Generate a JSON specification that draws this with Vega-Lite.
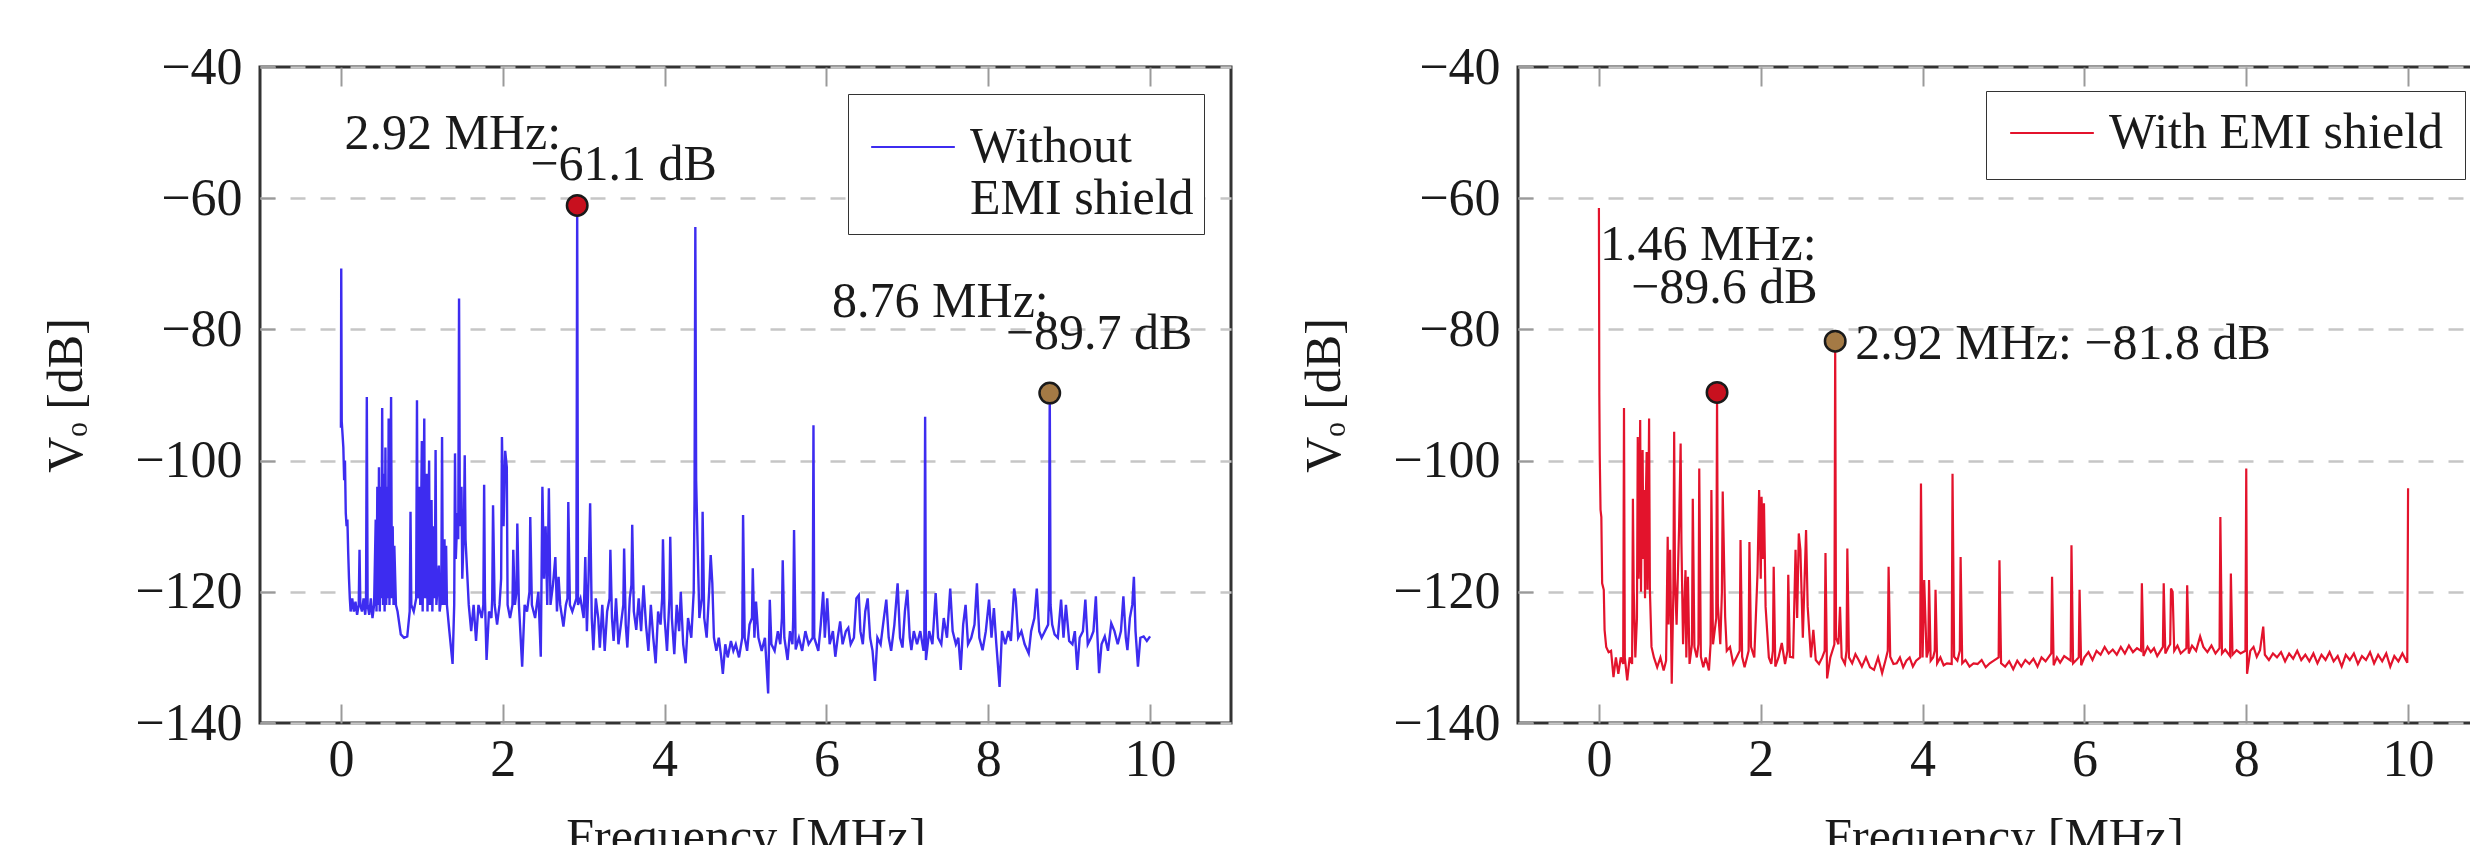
{
"$schema": "https://vega.github.io/schema/vega-lite/v6.json",
"padding": {"left": 40, "top": 39, "right": 0, "bottom": 0},
"spacing": 65,
"resolve": {"scale": {"color": "independent", "fill": "independent"}, "legend": {"color": "independent"}},
"config": {
 "font": "Liberation Serif",
 "view": {"stroke": "#333333", "strokeWidth": 3},
 "axis": {"labelFont": "Liberation Serif", "labelFontSize": 52, "labelColor": "#1a1a1a", "titleFont": "Liberation Serif", "titleFontSize": 50, "titleFontWeight": "normal", "titleColor": "#1a1a1a", "domain": false, "tickColor": "#9a9a9a", "tickWidth": 2, "labelFlush": false, "labelOverlap": false},
 "legend": {"orient": "top-right", "offset": 25, "labelFont": "Liberation Serif", "labelFontSize": 50, "labelColor": "#1a1a1a", "labelLimit": 1000, "symbolType": "stroke", "symbolSize": 7000, "symbolStrokeWidth": 2, "labelOffset": 14, "padding": 16, "strokeColor": "#333333", "fillColor": "white"}
},
"datasets": {
 "blue": [{"f":0,"v":-95},{"f":0.004,"v":-70.7},{"f":0.01,"v":-94},{"f":0.02,"v":-96},{"f":0.03,"v":-98},{"f":0.04,"v":-103},{"f":0.05,"v":-100},{"f":0.06,"v":-108},{"f":0.07,"v":-110},{"f":0.08,"v":-109},{"f":0.09,"v":-114},{"f":0.1,"v":-118},{"f":0.11,"v":-121},{"f":0.12,"v":-123},{"f":0.14,"v":-121},{"f":0.16,"v":-123},{"f":0.18,"v":-121.5},{"f":0.2,"v":-123.5},{"f":0.22,"v":-122},{"f":0.23,"v":-113.6},{"f":0.24,"v":-122},{"f":0.26,"v":-123},{"f":0.28,"v":-121},{"f":0.3,"v":-123.5},{"f":0.31,"v":-122},{"f":0.32,"v":-90.3},{"f":0.33,"v":-122},{"f":0.35,"v":-123.5},{"f":0.37,"v":-121},{"f":0.39,"v":-124},{"f":0.41,"v":-122},{"f":0.43,"v":-109},{"f":0.44,"v":-123},{"f":0.45,"v":-104},{"f":0.46,"v":-122},{"f":0.47,"v":-101},{"f":0.48,"v":-123},{"f":0.49,"v":-104},{"f":0.5,"v":-121},{"f":0.51,"v":-92},{"f":0.52,"v":-122},{"f":0.53,"v":-102},{"f":0.54,"v":-123},{"f":0.55,"v":-98},{"f":0.56,"v":-122},{"f":0.57,"v":-104},{"f":0.58,"v":-121},{"f":0.59,"v":-93.6},{"f":0.6,"v":-122},{"f":0.61,"v":-108},{"f":0.62,"v":-90.3},{"f":0.63,"v":-121},{"f":0.64,"v":-110},{"f":0.65,"v":-122},{"f":0.66,"v":-113},{"f":0.68,"v":-122},{"f":0.7,"v":-123},{"f":0.74,"v":-126.5},{"f":0.78,"v":-127},{"f":0.82,"v":-126.8},{"f":0.85,"v":-123},{"f":0.86,"v":-107.8},{"f":0.87,"v":-122},{"f":0.9,"v":-123},{"f":0.93,"v":-121},{"f":0.94,"v":-90.8},{"f":0.95,"v":-121},{"f":0.97,"v":-104},{"f":0.98,"v":-122},{"f":1.0,"v":-97},{"f":1.01,"v":-123},{"f":1.02,"v":-110},{"f":1.03,"v":-93.6},{"f":1.04,"v":-121},{"f":1.06,"v":-102},{"f":1.07,"v":-123},{"f":1.09,"v":-100},{"f":1.1,"v":-122},{"f":1.12,"v":-106},{"f":1.13,"v":-123},{"f":1.15,"v":-110},{"f":1.16,"v":-121},{"f":1.17,"v":-98.4},{"f":1.18,"v":-122},{"f":1.21,"v":-116},{"f":1.22,"v":-123},{"f":1.24,"v":-121},{"f":1.25,"v":-96.4},{"f":1.26,"v":-122},{"f":1.28,"v":-112},{"f":1.29,"v":-122},{"f":1.3,"v":-113},{"f":1.31,"v":-122},{"f":1.34,"v":-126},{"f":1.38,"v":-131},{"f":1.4,"v":-122},{"f":1.41,"v":-98.9},{"f":1.42,"v":-115},{"f":1.44,"v":-108},{"f":1.45,"v":-112},{"f":1.46,"v":-75.3},{"f":1.47,"v":-110},{"f":1.49,"v":-104},{"f":1.5,"v":-118},{"f":1.52,"v":-110},{"f":1.53,"v":-99.2},{"f":1.54,"v":-112},{"f":1.56,"v":-117},{"f":1.58,"v":-122},{"f":1.61,"v":-126},{"f":1.64,"v":-122},{"f":1.67,"v":-127.5},{"f":1.7,"v":-122},{"f":1.74,"v":-124},{"f":1.76,"v":-122},{"f":1.77,"v":-103.7},{"f":1.78,"v":-121},{"f":1.8,"v":-130.4},{"f":1.83,"v":-123},{"f":1.86,"v":-124},{"f":1.87,"v":-121},{"f":1.88,"v":-106.8},{"f":1.9,"v":-122},{"f":1.93,"v":-125},{"f":1.96,"v":-122},{"f":1.98,"v":-118},{"f":1.99,"v":-96.4},{"f":2.01,"v":-110},{"f":2.03,"v":-98.5},{"f":2.05,"v":-101},{"f":2.06,"v":-122},{"f":2.09,"v":-124},{"f":2.12,"v":-122},{"f":2.13,"v":-113.6},{"f":2.15,"v":-122},{"f":2.17,"v":-120},{"f":2.18,"v":-109.6},{"f":2.2,"v":-122},{"f":2.24,"v":-131.4},{"f":2.27,"v":-122},{"f":2.3,"v":-123},{"f":2.33,"v":-120},{"f":2.34,"v":-108.6},{"f":2.36,"v":-122},{"f":2.4,"v":-124},{"f":2.44,"v":-120},{"f":2.47,"v":-129.9},{"f":2.49,"v":-104},{"f":2.51,"v":-118},{"f":2.53,"v":-110},{"f":2.55,"v":-122},{"f":2.57,"v":-104.2},{"f":2.59,"v":-122},{"f":2.62,"v":-119},{"f":2.65,"v":-114.7},{"f":2.67,"v":-123},{"f":2.69,"v":-117.7},{"f":2.71,"v":-122},{"f":2.75,"v":-125.3},{"f":2.78,"v":-122},{"f":2.8,"v":-121},{"f":2.81,"v":-106.3},{"f":2.83,"v":-122},{"f":2.86,"v":-123},{"f":2.91,"v":-121},{"f":2.92,"v":-61.1},{"f":2.93,"v":-122},{"f":2.96,"v":-121},{"f":3.0,"v":-124},{"f":3.02,"v":-114.7},{"f":3.04,"v":-126},{"f":3.06,"v":-118},{"f":3.08,"v":-106.5},{"f":3.1,"v":-124},{"f":3.12,"v":-128.9},{"f":3.15,"v":-121},{"f":3.18,"v":-124},{"f":3.2,"v":-128.5},{"f":3.23,"v":-122},{"f":3.26,"v":-129},{"f":3.29,"v":-123},{"f":3.32,"v":-121},{"f":3.33,"v":-113.6},{"f":3.35,"v":-124},{"f":3.37,"v":-127.5},{"f":3.4,"v":-121},{"f":3.43,"v":-128},{"f":3.47,"v":-124},{"f":3.49,"v":-122},{"f":3.5,"v":-113.4},{"f":3.52,"v":-125},{"f":3.54,"v":-128.5},{"f":3.57,"v":-121},{"f":3.59,"v":-119},{"f":3.6,"v":-109.8},{"f":3.62,"v":-123},{"f":3.65,"v":-125.8},{"f":3.68,"v":-121},{"f":3.71,"v":-126},{"f":3.74,"v":-119},{"f":3.77,"v":-125},{"f":3.8,"v":-129},{"f":3.83,"v":-122},{"f":3.86,"v":-127},{"f":3.89,"v":-130.9},{"f":3.92,"v":-123},{"f":3.95,"v":-125},{"f":3.97,"v":-121},{"f":3.98,"v":-112},{"f":4.0,"v":-124},{"f":4.03,"v":-129},{"f":4.06,"v":-121},{"f":4.07,"v":-111.6},{"f":4.09,"v":-124},{"f":4.12,"v":-129.5},{"f":4.15,"v":-122},{"f":4.18,"v":-126},{"f":4.2,"v":-120},{"f":4.23,"v":-128},{"f":4.26,"v":-130.9},{"f":4.29,"v":-124},{"f":4.33,"v":-127},{"f":4.36,"v":-120},{"f":4.37,"v":-106},{"f":4.38,"v":-64.4},{"f":4.39,"v":-103},{"f":4.41,"v":-114},{"f":4.43,"v":-124},{"f":4.46,"v":-121},{"f":4.47,"v":-107.8},{"f":4.49,"v":-124},{"f":4.52,"v":-127},{"f":4.55,"v":-120},{"f":4.57,"v":-114.4},{"f":4.59,"v":-118.7},{"f":4.61,"v":-127},{"f":4.64,"v":-129},{"f":4.67,"v":-127},{"f":4.7,"v":-130},{"f":4.72,"v":-132.5},{"f":4.75,"v":-128},{"f":4.78,"v":-130},{"f":4.82,"v":-127.5},{"f":4.85,"v":-129},{"f":4.88,"v":-128},{"f":4.92,"v":-130},{"f":4.96,"v":-127},{"f":4.97,"v":-108.3},{"f":4.99,"v":-127},{"f":5.02,"v":-129},{"f":5.05,"v":-125},{"f":5.08,"v":-124},{"f":5.09,"v":-116.4},{"f":5.11,"v":-127},{"f":5.13,"v":-121.5},{"f":5.16,"v":-127},{"f":5.2,"v":-129},{"f":5.24,"v":-127},{"f":5.28,"v":-135.5},{"f":5.3,"v":-121.2},{"f":5.32,"v":-128},{"f":5.36,"v":-129},{"f":5.4,"v":-126},{"f":5.43,"v":-128},{"f":5.45,"v":-124},{"f":5.46,"v":-115.2},{"f":5.48,"v":-127},{"f":5.52,"v":-130.4},{"f":5.55,"v":-126},{"f":5.58,"v":-128},{"f":5.59,"v":-124},{"f":5.6,"v":-110.6},{"f":5.62,"v":-128.8},{"f":5.66,"v":-127},{"f":5.7,"v":-129},{"f":5.74,"v":-126},{"f":5.78,"v":-128},{"f":5.83,"v":-127},{"f":5.84,"v":-94.6},{"f":5.85,"v":-127},{"f":5.9,"v":-129},{"f":5.93,"v":-125},{"f":5.96,"v":-120},{"f":5.98,"v":-127},{"f":6.01,"v":-121},{"f":6.04,"v":-128},{"f":6.08,"v":-126},{"f":6.11,"v":-129.9},{"f":6.14,"v":-127},{"f":6.17,"v":-124.5},{"f":6.2,"v":-128},{"f":6.24,"v":-126},{"f":6.27,"v":-125.5},{"f":6.3,"v":-128},{"f":6.34,"v":-127},{"f":6.37,"v":-121},{"f":6.4,"v":-120.5},{"f":6.42,"v":-126},{"f":6.45,"v":-128},{"f":6.48,"v":-123},{"f":6.51,"v":-121},{"f":6.54,"v":-127},{"f":6.57,"v":-129},{"f":6.6,"v":-133.6},{"f":6.63,"v":-127},{"f":6.67,"v":-128},{"f":6.71,"v":-124},{"f":6.74,"v":-121.2},{"f":6.77,"v":-127},{"f":6.8,"v":-129},{"f":6.84,"v":-125},{"f":6.88,"v":-118.7},{"f":6.91,"v":-127},{"f":6.94,"v":-128.5},{"f":6.97,"v":-123},{"f":7.0,"v":-119.7},{"f":7.03,"v":-127},{"f":7.05,"v":-128.9},{"f":7.08,"v":-126},{"f":7.12,"v":-128},{"f":7.16,"v":-126},{"f":7.2,"v":-129},{"f":7.21,"v":-127},{"f":7.22,"v":-93.3},{"f":7.23,"v":-130.4},{"f":7.27,"v":-126},{"f":7.31,"v":-128},{"f":7.35,"v":-120.2},{"f":7.38,"v":-127},{"f":7.42,"v":-128},{"f":7.45,"v":-124},{"f":7.49,"v":-127},{"f":7.53,"v":-119.5},{"f":7.56,"v":-126},{"f":7.6,"v":-128},{"f":7.63,"v":-127},{"f":7.66,"v":-131.9},{"f":7.69,"v":-125},{"f":7.72,"v":-122},{"f":7.75,"v":-128},{"f":7.79,"v":-127},{"f":7.83,"v":-125},{"f":7.86,"v":-118.7},{"f":7.89,"v":-127},{"f":7.93,"v":-128.9},{"f":7.97,"v":-126},{"f":8.01,"v":-121.2},{"f":8.04,"v":-127},{"f":8.07,"v":-122.5},{"f":8.1,"v":-128},{"f":8.14,"v":-134.5},{"f":8.17,"v":-126},{"f":8.21,"v":-128},{"f":8.25,"v":-126},{"f":8.28,"v":-127.5},{"f":8.32,"v":-119.5},{"f":8.34,"v":-121},{"f":8.37,"v":-127},{"f":8.41,"v":-126},{"f":8.45,"v":-128},{"f":8.5,"v":-129.4},{"f":8.53,"v":-126},{"f":8.57,"v":-124},{"f":8.6,"v":-119.5},{"f":8.63,"v":-126},{"f":8.66,"v":-127},{"f":8.7,"v":-126},{"f":8.74,"v":-125},{"f":8.75,"v":-121},{"f":8.76,"v":-89.7},{"f":8.77,"v":-122},{"f":8.79,"v":-125},{"f":8.82,"v":-126.5},{"f":8.86,"v":-127},{"f":8.9,"v":-121.2},{"f":8.93,"v":-127},{"f":8.96,"v":-122},{"f":9.0,"v":-127.5},{"f":9.04,"v":-128},{"f":9.07,"v":-126},{"f":9.1,"v":-131.9},{"f":9.13,"v":-127},{"f":9.17,"v":-126},{"f":9.2,"v":-121.2},{"f":9.23,"v":-128},{"f":9.27,"v":-127},{"f":9.3,"v":-126},{"f":9.33,"v":-120.7},{"f":9.35,"v":-127},{"f":9.37,"v":-132.4},{"f":9.4,"v":-128},{"f":9.44,"v":-126.8},{"f":9.48,"v":-129},{"f":9.52,"v":-124.8},{"f":9.56,"v":-126},{"f":9.6,"v":-128},{"f":9.64,"v":-126},{"f":9.67,"v":-120.7},{"f":9.7,"v":-127},{"f":9.72,"v":-128.9},{"f":9.75,"v":-124},{"f":9.78,"v":-122},{"f":9.8,"v":-117.7},{"f":9.82,"v":-126},{"f":9.85,"v":-131.4},{"f":9.88,"v":-127},{"f":9.92,"v":-126.8},{"f":9.96,"v":-127.5},{"f":10.0,"v":-126.8}],
 "red": [{"f":0,"v":-61.5},{"f":0.005,"v":-90},{"f":0.01,"v":-99},{"f":0.02,"v":-107.5},{"f":0.03,"v":-108.6},{"f":0.04,"v":-118.7},{"f":0.06,"v":-119.7},{"f":0.07,"v":-125.8},{"f":0.09,"v":-128.4},{"f":0.12,"v":-129.2},{"f":0.15,"v":-129},{"f":0.18,"v":-133},{"f":0.21,"v":-130},{"f":0.24,"v":-132.5},{"f":0.27,"v":-130},{"f":0.3,"v":-131},{"f":0.31,"v":-92},{"f":0.32,"v":-130},{"f":0.35,"v":-133.5},{"f":0.38,"v":-130},{"f":0.41,"v":-131},{"f":0.42,"v":-105.8},{"f":0.43,"v":-119.7},{"f":0.45,"v":-130},{"f":0.47,"v":-124},{"f":0.48,"v":-96.4},{"f":0.49,"v":-118},{"f":0.5,"v":-110},{"f":0.51,"v":-93.8},{"f":0.52,"v":-120},{"f":0.53,"v":-105},{"f":0.54,"v":-98.4},{"f":0.55,"v":-115},{"f":0.56,"v":-104.5},{"f":0.57,"v":-121},{"f":0.58,"v":-106},{"f":0.59,"v":-98.7},{"f":0.6,"v":-119.7},{"f":0.61,"v":-110},{"f":0.62,"v":-93.6},{"f":0.63,"v":-119.7},{"f":0.65,"v":-128.4},{"f":0.68,"v":-130},{"f":0.72,"v":-131.5},{"f":0.76,"v":-130},{"f":0.8,"v":-132},{"f":0.83,"v":-130.5},{"f":0.85,"v":-111.6},{"f":0.86,"v":-125},{"f":0.88,"v":-113.6},{"f":0.9,"v":-134},{"f":0.92,"v":-120},{"f":0.93,"v":-95.6},{"f":0.94,"v":-118},{"f":0.96,"v":-125},{"f":0.99,"v":-110.6},{"f":1.01,"v":-97.4},{"f":1.02,"v":-112.7},{"f":1.04,"v":-128},{"f":1.07,"v":-116.7},{"f":1.08,"v":-130},{"f":1.1,"v":-117.7},{"f":1.12,"v":-131},{"f":1.15,"v":-128},{"f":1.16,"v":-105.8},{"f":1.18,"v":-128.4},{"f":1.21,"v":-130},{"f":1.23,"v":-128},{"f":1.24,"v":-101.2},{"f":1.26,"v":-129.9},{"f":1.29,"v":-131.5},{"f":1.32,"v":-130},{"f":1.36,"v":-132},{"f":1.38,"v":-128},{"f":1.39,"v":-104.5},{"f":1.41,"v":-128},{"f":1.45,"v":-124},{"f":1.46,"v":-89.6},{"f":1.47,"v":-122},{"f":1.5,"v":-128},{"f":1.52,"v":-120},{"f":1.53,"v":-104.7},{"f":1.56,"v":-123.8},{"f":1.58,"v":-129},{"f":1.62,"v":-128.4},{"f":1.66,"v":-131},{"f":1.7,"v":-130},{"f":1.74,"v":-129},{"f":1.75,"v":-112.1},{"f":1.77,"v":-129.9},{"f":1.8,"v":-131.5},{"f":1.83,"v":-130},{"f":1.85,"v":-129},{"f":1.86,"v":-112.4},{"f":1.88,"v":-128.4},{"f":1.92,"v":-130},{"f":1.96,"v":-117.2},{"f":1.98,"v":-104.5},{"f":2.0,"v":-118},{"f":2.01,"v":-105.5},{"f":2.03,"v":-115},{"f":2.04,"v":-106.5},{"f":2.06,"v":-122.3},{"f":2.1,"v":-130},{"f":2.13,"v":-131},{"f":2.15,"v":-129},{"f":2.16,"v":-116.2},{"f":2.18,"v":-131.4},{"f":2.22,"v":-130},{"f":2.26,"v":-127.8},{"f":2.3,"v":-131},{"f":2.33,"v":-129},{"f":2.34,"v":-117.4},{"f":2.36,"v":-129.9},{"f":2.4,"v":-130},{"f":2.43,"v":-113.6},{"f":2.45,"v":-124},{"f":2.47,"v":-111.1},{"f":2.49,"v":-113.6},{"f":2.52,"v":-127},{"f":2.56,"v":-110.6},{"f":2.58,"v":-122.3},{"f":2.62,"v":-130},{"f":2.65,"v":-125.8},{"f":2.68,"v":-130.4},{"f":2.72,"v":-131},{"f":2.76,"v":-130},{"f":2.79,"v":-129},{"f":2.8,"v":-114.1},{"f":2.82,"v":-133.2},{"f":2.86,"v":-130},{"f":2.91,"v":-128},{"f":2.92,"v":-81.8},{"f":2.93,"v":-127},{"f":2.96,"v":-128},{"f":2.98,"v":-122.3},{"f":3.0,"v":-130},{"f":3.04,"v":-131},{"f":3.06,"v":-129},{"f":3.07,"v":-113.4},{"f":3.09,"v":-130},{"f":3.13,"v":-130.9},{"f":3.17,"v":-129.5},{"f":3.21,"v":-130.4},{"f":3.25,"v":-131.4},{"f":3.3,"v":-130},{"f":3.35,"v":-131.5},{"f":3.4,"v":-131.9},{"f":3.45,"v":-130},{"f":3.5,"v":-132.4},{"f":3.54,"v":-130.5},{"f":3.57,"v":-129},{"f":3.58,"v":-116.2},{"f":3.6,"v":-129.9},{"f":3.64,"v":-131},{"f":3.68,"v":-130.9},{"f":3.72,"v":-130},{"f":3.76,"v":-131.5},{"f":3.8,"v":-130.5},{"f":3.84,"v":-130},{"f":3.88,"v":-131.4},{"f":3.92,"v":-130.5},{"f":3.97,"v":-130},{"f":3.98,"v":-103.5},{"f":4.0,"v":-130},{"f":4.02,"v":-118.2},{"f":4.05,"v":-130},{"f":4.07,"v":-129},{"f":4.08,"v":-118.2},{"f":4.1,"v":-130.5},{"f":4.13,"v":-130},{"f":4.15,"v":-129},{"f":4.16,"v":-119.7},{"f":4.18,"v":-130.9},{"f":4.22,"v":-130},{"f":4.26,"v":-131.2},{"f":4.3,"v":-130.9},{"f":4.36,"v":-131},{"f":4.37,"v":-102},{"f":4.39,"v":-129.9},{"f":4.43,"v":-130.5},{"f":4.46,"v":-129},{"f":4.47,"v":-114.7},{"f":4.49,"v":-130.9},{"f":4.53,"v":-130.4},{"f":4.58,"v":-131.4},{"f":4.63,"v":-130.9},{"f":4.68,"v":-131},{"f":4.73,"v":-130.4},{"f":4.78,"v":-131.5},{"f":4.83,"v":-130.9},{"f":4.88,"v":-130.5},{"f":4.94,"v":-130},{"f":4.95,"v":-115.2},{"f":4.97,"v":-130.9},{"f":5.02,"v":-131.4},{"f":5.07,"v":-130.6},{"f":5.12,"v":-131.8},{"f":5.17,"v":-130.5},{"f":5.22,"v":-131.4},{"f":5.27,"v":-130.4},{"f":5.32,"v":-131},{"f":5.37,"v":-130.2},{"f":5.42,"v":-131.4},{"f":5.47,"v":-130},{"f":5.52,"v":-130.6},{"f":5.59,"v":-129.4},{"f":5.6,"v":-117.7},{"f":5.62,"v":-131.2},{"f":5.66,"v":-130},{"f":5.7,"v":-130.8},{"f":5.75,"v":-129.8},{"f":5.83,"v":-130.5},{"f":5.84,"v":-112.9},{"f":5.86,"v":-130.9},{"f":5.9,"v":-130.4},{"f":5.93,"v":-130},{"f":5.94,"v":-119.7},{"f":5.96,"v":-131.2},{"f":6.0,"v":-130},{"f":6.05,"v":-129.2},{"f":6.1,"v":-130.4},{"f":6.15,"v":-129},{"f":6.2,"v":-129.6},{"f":6.25,"v":-128.4},{"f":6.3,"v":-129.4},{"f":6.35,"v":-128.8},{"f":6.4,"v":-129.6},{"f":6.45,"v":-128.4},{"f":6.5,"v":-129.4},{"f":6.55,"v":-128.2},{"f":6.6,"v":-129.2},{"f":6.65,"v":-128.6},{"f":6.7,"v":-129},{"f":6.71,"v":-118.7},{"f":6.73,"v":-129.8},{"f":6.78,"v":-128.4},{"f":6.82,"v":-129.2},{"f":6.86,"v":-128.6},{"f":6.9,"v":-129.8},{"f":6.97,"v":-128.4},{"f":6.98,"v":-118.7},{"f":7.0,"v":-129.4},{"f":7.04,"v":-128.4},{"f":7.06,"v":-128},{"f":7.07,"v":-119.5},{"f":7.09,"v":-120},{"f":7.11,"v":-129},{"f":7.15,"v":-128.2},{"f":7.19,"v":-129.4},{"f":7.26,"v":-128.6},{"f":7.27,"v":-119},{"f":7.29,"v":-129.4},{"f":7.33,"v":-128.2},{"f":7.38,"v":-129},{"f":7.43,"v":-126.8},{"f":7.47,"v":-128.4},{"f":7.52,"v":-129.2},{"f":7.57,"v":-128.2},{"f":7.62,"v":-129.4},{"f":7.67,"v":-128.6},{"f":7.68,"v":-108.6},{"f":7.7,"v":-129.4},{"f":7.74,"v":-128.8},{"f":7.8,"v":-129.8},{"f":7.81,"v":-117.2},{"f":7.83,"v":-129.6},{"f":7.88,"v":-128.9},{"f":7.93,"v":-129.4},{"f":7.99,"v":-129},{"f":8.0,"v":-101.2},{"f":8.01,"v":-132.5},{"f":8.05,"v":-129},{"f":8.09,"v":-128.4},{"f":8.13,"v":-129.9},{"f":8.17,"v":-128.9},{"f":8.21,"v":-125.3},{"f":8.23,"v":-129.6},{"f":8.28,"v":-130.4},{"f":8.33,"v":-129.4},{"f":8.38,"v":-130},{"f":8.43,"v":-129.2},{"f":8.48,"v":-130.6},{"f":8.53,"v":-129.4},{"f":8.58,"v":-130.2},{"f":8.63,"v":-129},{"f":8.68,"v":-130.4},{"f":8.73,"v":-129.6},{"f":8.78,"v":-130.6},{"f":8.83,"v":-129.4},{"f":8.88,"v":-130.9},{"f":8.93,"v":-129.6},{"f":8.98,"v":-130.4},{"f":9.03,"v":-129.2},{"f":9.08,"v":-130.6},{"f":9.13,"v":-129.8},{"f":9.18,"v":-131.4},{"f":9.23,"v":-129.6},{"f":9.28,"v":-130.4},{"f":9.33,"v":-129.4},{"f":9.38,"v":-131},{"f":9.43,"v":-129.8},{"f":9.48,"v":-130.4},{"f":9.53,"v":-129.2},{"f":9.58,"v":-130.9},{"f":9.63,"v":-129.6},{"f":9.68,"v":-130.6},{"f":9.73,"v":-129.4},{"f":9.78,"v":-131.4},{"f":9.83,"v":-129.8},{"f":9.88,"v":-130.6},{"f":9.93,"v":-129.4},{"f":9.99,"v":-130.8},{"f":10.0,"v":-104.2}],
 "ptsA": [{"f":2.92,"v":-61.1,"k":"a","t1":"2.92 MHz:","t2":"−61.1 dB"},{"f":8.76,"v":-89.7,"k":"b","t1":"8.76 MHz:","t2":"−89.7 dB"}],
 "ptsB": [{"f":1.46,"v":-89.6,"k":"a","t1":"1.46 MHz:","t2":"−89.6 dB"},{"f":2.92,"v":-81.8,"k":"b","t1":"2.92 MHz: −81.8 dB","t2":""}]
},
"hconcat": [
 {
  "width": 971, "height": 656,
  "resolve": {"axis": {"x": "independent"}},
  "layer": [
   {"data": {"name": "blue"}, "mark": {"type": "line", "strokeWidth": 2.4, "clip": true},
    "encoding": {
     "x": {"field": "f", "type": "quantitative", "scale": {"domain": [-1, 11], "nice": false, "zero": false}, "axis": {"orient": "bottom", "values": [0,2,4,6,8,10], "title": "Frequency [MHz]", "tickSize": -19, "labelPadding": 30, "titlePadding": 27, "grid": false}},
     "y": {"field": "v", "type": "quantitative", "scale": {"domain": [-140, -40], "nice": false, "zero": false}, "axis": {"values": [-140,-120,-100,-80,-60,-40], "title": "Vₒ [dB]", "tickSize": -15, "labelPadding": 33, "titlePadding": 43, "grid": true, "gridDash": [15, 15], "gridColor": "#c6c6c6", "gridWidth": 2.5}},
     "color": {"datum": "Without EMI shield", "scale": {"range": ["#3d2cf0"]}, "legend": {"title": null, "orient": "top-right", "offset": 27, "padding": 10, "symbolOffset": 12, "labelExpr": "['Without', 'EMI shield']"}}
    }
   },
   {"data": {"name": "ptsA"}, "mark": {"type": "point", "shape": "circle", "filled": true, "size": 420, "stroke": "#1a1a1a", "strokeWidth": 2.5, "opacity": 1},
    "encoding": {
     "x": {"field": "f", "type": "quantitative", "axis": {"orient": "top", "values": [0,2,4,6,8,10], "labels": false, "title": null, "tickSize": -19, "grid": false}},
     "y": {"field": "v", "type": "quantitative"},
     "fill": {"field": "k", "type": "nominal", "scale": {"domain": ["a","b"], "range": ["#c8101e", "#a47a45"]}, "legend": null}
    }
   },
   {"data": {"name": "ptsA"}, "transform": [{"filter": "datum.k == 'a'"}], "mark": {"type": "text", "align": "right", "baseline": "middle", "dx": -16, "dy": -71, "fontSize": 50, "font": "Liberation Serif", "color": "#1a1a1a"},
    "encoding": {"x": {"field": "f", "type": "quantitative", "axis": null}, "y": {"field": "v", "type": "quantitative"}, "text": {"field": "t1"}}},
   {"data": {"name": "ptsA"}, "transform": [{"filter": "datum.k == 'a'"}], "mark": {"type": "text", "align": "left", "baseline": "middle", "dx": -47, "dy": -40, "fontSize": 50, "font": "Liberation Serif", "color": "#1a1a1a"},
    "encoding": {"x": {"field": "f", "type": "quantitative", "axis": null}, "y": {"field": "v", "type": "quantitative"}, "text": {"field": "t2"}}},
   {"data": {"name": "ptsA"}, "transform": [{"filter": "datum.k == 'b'"}], "mark": {"type": "text", "align": "right", "baseline": "middle", "dx": -1, "dy": -91, "fontSize": 50, "font": "Liberation Serif", "color": "#1a1a1a"},
    "encoding": {"x": {"field": "f", "type": "quantitative", "axis": null}, "y": {"field": "v", "type": "quantitative"}, "text": {"field": "t1"}}},
   {"data": {"name": "ptsA"}, "transform": [{"filter": "datum.k == 'b'"}], "mark": {"type": "text", "align": "left", "baseline": "middle", "dx": -44, "dy": -59, "fontSize": 50, "font": "Liberation Serif", "color": "#1a1a1a"},
    "encoding": {"x": {"field": "f", "type": "quantitative", "axis": null}, "y": {"field": "v", "type": "quantitative"}, "text": {"field": "t2"}}}
  ]
 },
 {
  "width": 971, "height": 656,
  "resolve": {"axis": {"x": "independent"}},
  "layer": [
   {"data": {"name": "red"}, "mark": {"type": "line", "strokeWidth": 2.2, "clip": true},
    "encoding": {
     "x": {"field": "f", "type": "quantitative", "scale": {"domain": [-1, 11], "nice": false, "zero": false}, "axis": {"orient": "bottom", "values": [0,2,4,6,8,10], "title": "Frequency [MHz]", "tickSize": -19, "labelPadding": 30, "titlePadding": 27, "grid": false}},
     "y": {"field": "v", "type": "quantitative", "scale": {"domain": [-140, -40], "nice": false, "zero": false}, "axis": {"values": [-140,-120,-100,-80,-60,-40], "title": "Vₒ [dB]", "tickSize": -15, "labelPadding": 33, "titlePadding": 43, "grid": true, "gridDash": [15, 15], "gridColor": "#c6c6c6", "gridWidth": 2.5}},
     "color": {"datum": "With EMI shield", "scale": {"range": ["#e3132c"]}, "legend": {"title": null, "orient": "top-right", "offset": 24, "padding": 21, "clipHeight": 42, "symbolOffset": 2}}
    }
   },
   {"data": {"name": "ptsB"}, "mark": {"type": "point", "shape": "circle", "filled": true, "size": 420, "stroke": "#1a1a1a", "strokeWidth": 2.5, "opacity": 1},
    "encoding": {
     "x": {"field": "f", "type": "quantitative", "axis": {"orient": "top", "values": [0,2,4,6,8,10], "labels": false, "title": null, "tickSize": -19, "grid": false}},
     "y": {"field": "v", "type": "quantitative"},
     "fill": {"field": "k", "type": "nominal", "scale": {"domain": ["a","b"], "range": ["#c8101e", "#a47a45"]}, "legend": null}
    }
   },
   {"data": {"name": "ptsB"}, "transform": [{"filter": "datum.k == 'a'"}], "mark": {"type": "text", "align": "left", "baseline": "middle", "dx": -117, "dy": -147, "fontSize": 50, "font": "Liberation Serif", "color": "#1a1a1a"},
    "encoding": {"x": {"field": "f", "type": "quantitative", "axis": null}, "y": {"field": "v", "type": "quantitative"}, "text": {"field": "t1"}}},
   {"data": {"name": "ptsB"}, "transform": [{"filter": "datum.k == 'a'"}], "mark": {"type": "text", "align": "left", "baseline": "middle", "dx": -86, "dy": -104, "fontSize": 50, "font": "Liberation Serif", "color": "#1a1a1a"},
    "encoding": {"x": {"field": "f", "type": "quantitative", "axis": null}, "y": {"field": "v", "type": "quantitative"}, "text": {"field": "t2"}}},
   {"data": {"name": "ptsB"}, "transform": [{"filter": "datum.k == 'b'"}], "mark": {"type": "text", "align": "left", "baseline": "middle", "dx": 20, "dy": 3, "fontSize": 50, "font": "Liberation Serif", "color": "#1a1a1a"},
    "encoding": {"x": {"field": "f", "type": "quantitative", "axis": null}, "y": {"field": "v", "type": "quantitative"}, "text": {"field": "t1"}}}
  ]
 }
]
}
